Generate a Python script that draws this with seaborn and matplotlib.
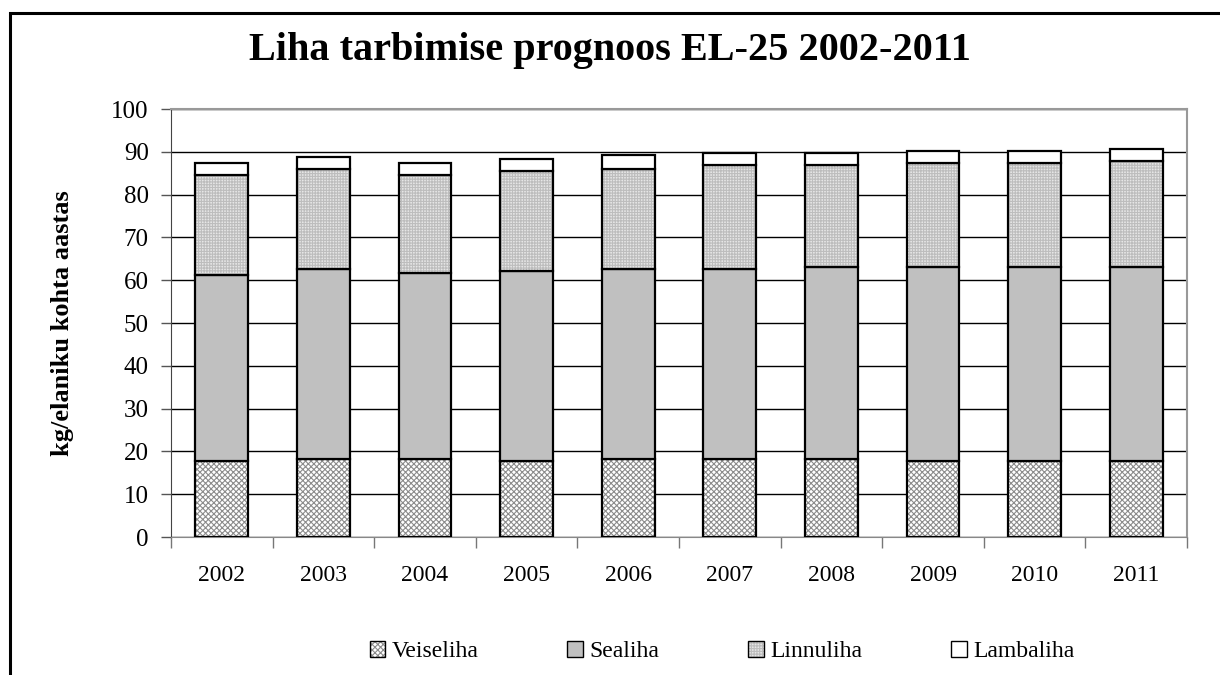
import matplotlib
matplotlib.use("Agg")
import matplotlib.pyplot as plt
import seaborn as sns
import pandas as pd
from matplotlib.patches import Rectangle, Patch

years = ["2002", "2003", "2004", "2005", "2006", "2007", "2008", "2009", "2010", "2011"]
veiseliha = [17.8, 18.3, 18.3, 17.7, 18.2, 18.2, 18.2, 17.7, 17.7, 17.7]
sealiha = [43.4, 44.3, 43.4, 44.4, 44.4, 44.4, 44.9, 45.5, 45.5, 45.5]
linnuliha = [23.4, 23.4, 22.9, 23.5, 23.4, 24.4, 23.9, 24.2, 24.2, 24.7]
lambaliha = [2.8, 2.8, 2.8, 2.7, 3.3, 2.7, 2.7, 2.9, 2.9, 2.8]
series_names = ["Veiseliha", "Sealiha", "Linnuliha", "Lambaliha"]

df = pd.DataFrame({"aasta": years, "Veiseliha": veiseliha, "Sealiha": sealiha,
                   "Linnuliha": linnuliha, "Lambaliha": lambaliha})

sns.set_style("white")
plt.rcParams["font.family"] = ["Liberation Serif", "DejaVu Serif"]
plt.rcParams["text.color"] = "black"
plt.rcParams["axes.labelcolor"] = "black"
plt.rcParams["xtick.labelcolor"] = "black"
plt.rcParams["ytick.labelcolor"] = "black"
plt.rcParams["hatch.linewidth"] = 0.8

# fill style per series: facecolor, hatch, hatch colour
styles = {
    "Veiseliha": ("white", "xxxxxx", "#8c8c8c"),
    "Sealiha": ("#c0c0c0", "", "black"),
    "Linnuliha": ("#e6e6e6", "++++++", "#bdbdbd"),
    "Lambaliha": ("white", "", "black"),
}

fig = plt.figure(figsize=(12.2, 6.75), dpi=100)
ax = fig.add_axes([0.1402, 0.2044, 0.8328, 0.6341])

bottom = pd.Series([0.0] * len(years))
for name in series_names:
    fc, hatch, hc = styles[name]
    sns.barplot(data=df, x="aasta", y=name, ax=ax, color=fc, width=0.52,
                bottom=bottom.values, edgecolor="black", linewidth=1.6,
                saturation=1, hatch=hatch, zorder=3)
    for p in ax.patches[-len(years):]:
        p.set_facecolor(fc)
        p.set_edgecolor("black")
        if hatch:
            p._hatch_color = matplotlib.colors.to_rgba(hc)
    bottom = bottom + df[name]

ax.set_ylim(0, 100)
ax.set_xlim(-0.5, len(years) - 0.5)
ax.set_yticks(range(0, 101, 10))
ax.yaxis.grid(True, color="black", linewidth=1.0, zorder=0)
ax.set_axisbelow(True)
ax.tick_params(axis="y", labelsize=18, length=7, width=1, color="#555555", pad=9, left=True)
ax.tick_params(axis="x", which="major", labelsize=17, length=0, pad=20)
ax.set_xticks([i + 0.5 for i in range(-1, len(years))], minor=True)
ax.tick_params(axis="x", which="minor", length=8, width=1, color="#777777", bottom=True)
ax.set_xlabel("")
ax.set_ylabel("kg/elaniku kohta aastas", fontsize=19, fontweight="bold", labelpad=27)
for s in ["top", "right"]:
    ax.spines[s].set_color("#999999")
    ax.spines[s].set_linewidth(1.5)
ax.spines["left"].set_color("#444444")
ax.spines["bottom"].set_color("#888888")

fig.text(0.5, 0.925, "Liha tarbimise prognoos EL-25 2002-2011", ha="center", va="center",
         fontsize=29, fontweight="bold")

handles = []
for name in series_names:
    fc, hatch, hc = styles[name]
    h = Patch(facecolor=fc, edgecolor="black", hatch=hatch, linewidth=1.0, label=name)
    if hatch:
        h._hatch_color = matplotlib.colors.to_rgba(hc)
    handles.append(h)
fig.legend(handles=handles, loc="center", bbox_to_anchor=(0.592, 0.035), ncol=4, frameon=False,
           fontsize=17, columnspacing=3.75, handlelength=0.65, handleheight=0.65, handletextpad=0.3)

fig.patches.append(Rectangle((10 / 1220, -0.1), 1.2, 1 - 13 / 675 + 0.1, transform=fig.transFigure,
                             fill=False, edgecolor="black", linewidth=2.2))

fig.savefig("out.png", dpi=100)
